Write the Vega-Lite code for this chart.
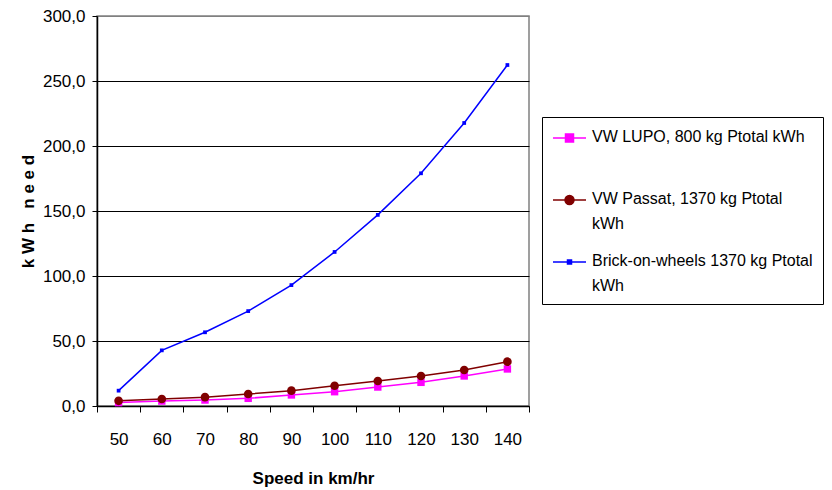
{
  "$schema": "https://vega.github.io/schema/vega-lite/v6.json",
  "width": 432,
  "height": 390,
  "autosize": {"type": "none"},
  "padding": {"left": 97, "top": 16, "right": 303, "bottom": 84},
  "background": "white",
  "config": {
    "view": {"stroke": "#808080", "strokeWidth": 1.5},
    "font": "Liberation Sans"
  },
  "data": {
    "values": [
      {"speed": 50, "series": "VW LUPO, 800 kg Ptotal kWh", "kwh": 2.6},
      {"speed": 60, "series": "VW LUPO, 800 kg Ptotal kWh", "kwh": 3.8},
      {"speed": 70, "series": "VW LUPO, 800 kg Ptotal kWh", "kwh": 4.6},
      {"speed": 80, "series": "VW LUPO, 800 kg Ptotal kWh", "kwh": 5.9},
      {"speed": 90, "series": "VW LUPO, 800 kg Ptotal kWh", "kwh": 8.5},
      {"speed": 100, "series": "VW LUPO, 800 kg Ptotal kWh", "kwh": 11.0},
      {"speed": 110, "series": "VW LUPO, 800 kg Ptotal kWh", "kwh": 14.6},
      {"speed": 120, "series": "VW LUPO, 800 kg Ptotal kWh", "kwh": 18.2},
      {"speed": 130, "series": "VW LUPO, 800 kg Ptotal kWh", "kwh": 23.1},
      {"speed": 140, "series": "VW LUPO, 800 kg Ptotal kWh", "kwh": 28.5},
      {"speed": 50, "series": "VW Passat, 1370 kg Ptotal kWh", "kwh": 4.0},
      {"speed": 60, "series": "VW Passat, 1370 kg Ptotal kWh", "kwh": 5.4},
      {"speed": 70, "series": "VW Passat, 1370 kg Ptotal kWh", "kwh": 6.8},
      {"speed": 80, "series": "VW Passat, 1370 kg Ptotal kWh", "kwh": 9.2},
      {"speed": 90, "series": "VW Passat, 1370 kg Ptotal kWh", "kwh": 11.8},
      {"speed": 100, "series": "VW Passat, 1370 kg Ptotal kWh", "kwh": 15.6},
      {"speed": 110, "series": "VW Passat, 1370 kg Ptotal kWh", "kwh": 19.2},
      {"speed": 120, "series": "VW Passat, 1370 kg Ptotal kWh", "kwh": 23.1},
      {"speed": 130, "series": "VW Passat, 1370 kg Ptotal kWh", "kwh": 27.7},
      {"speed": 140, "series": "VW Passat, 1370 kg Ptotal kWh", "kwh": 34.1},
      {"speed": 50, "series": "Brick-on-wheels 1370 kg Ptotal kWh", "kwh": 11.8},
      {"speed": 60, "series": "Brick-on-wheels 1370 kg Ptotal kWh", "kwh": 42.8},
      {"speed": 70, "series": "Brick-on-wheels 1370 kg Ptotal kWh", "kwh": 56.7},
      {"speed": 80, "series": "Brick-on-wheels 1370 kg Ptotal kWh", "kwh": 73.0},
      {"speed": 90, "series": "Brick-on-wheels 1370 kg Ptotal kWh", "kwh": 93.0},
      {"speed": 100, "series": "Brick-on-wheels 1370 kg Ptotal kWh", "kwh": 118.5},
      {"speed": 110, "series": "Brick-on-wheels 1370 kg Ptotal kWh", "kwh": 147.0},
      {"speed": 120, "series": "Brick-on-wheels 1370 kg Ptotal kWh", "kwh": 179.0},
      {"speed": 130, "series": "Brick-on-wheels 1370 kg Ptotal kWh", "kwh": 217.7},
      {"speed": 140, "series": "Brick-on-wheels 1370 kg Ptotal kWh", "kwh": 262.3}
    ]
  },
  "encoding": {
    "x": {
      "field": "speed",
      "type": "ordinal",
      "scale": {"type": "band", "paddingInner": 0, "paddingOuter": 0},
      "axis": {
        "title": "Speed in km/hr",
        "labelAngle": 0,
        "labelFontSize": 17,
        "labelColor": "black",
        "labelPadding": 19,
        "tickBand": "extent",
        "tickSize": 6,
        "tickColor": "black",
        "domainColor": "black",
        "domainWidth": 1.5,
        "titleFontSize": 17,
        "titleFontWeight": "bold",
        "titleColor": "black",
        "titlePadding": 23
      }
    },
    "y": {
      "field": "kwh",
      "type": "quantitative",
      "scale": {"domain": [0, 300], "nice": false},
      "axis": {
        "title": "k W h \u00a0 n e e d",
        "values": [0, 50, 100, 150, 200, 250, 300],
        "labelExpr": "replace(format(datum.value, '.1f'), '.', ',')",
        "labelFontSize": 17,
        "labelColor": "black",
        "labelPadding": 7,
        "tickSize": 5,
        "tickColor": "black",
        "domainColor": "black",
        "domainWidth": 1.5,
        "grid": true,
        "gridColor": {"condition": {"test": "datum.value === 300", "value": "#808080"}, "value": "black"},
        "gridOpacity": 1,
        "gridWidth": 1,
        "titleFontSize": 17,
        "titleFontWeight": "bold",
        "titleColor": "black",
        "titlePadding": 5
      }
    },
    "color": {
      "field": "series",
      "type": "nominal",
      "scale": {
        "domain": ["VW LUPO, 800 kg Ptotal kWh", "VW Passat, 1370 kg Ptotal kWh", "Brick-on-wheels 1370 kg Ptotal kWh"],
        "range": ["#ff00ff", "#800000", "#0000ff"]
      },
      "legend": {
        "title": null,
        "orient": "none",
        "legendX": 445,
        "legendY": 101,
        "strokeColor": "black",
        "fillColor": "white",
        "padding": 10,
        "gridAlign": "all",
        "symbolSize": 400,
        "symbolOffset": 0,
        "labelOffset": 18,
        "labelFontSize": 16,
        "labelColor": "black",
        "labelLimit": 400,
        "rowPadding": 19,
        "labelExpr": "datum.value == 'VW Passat, 1370 kg Ptotal kWh' ? ['VW Passat, 1370 kg Ptotal', 'kWh'] : datum.value == 'Brick-on-wheels 1370 kg Ptotal kWh' ? ['Brick-on-wheels 1370 kg Ptotal', 'kWh'] : datum.label",
        "encode": {
          "labels": {
            "update": {
              "baseline": {"value": "top"},
              "dy": {"value": -9},
              "lineHeight": {"value": 25}
            }
          },
          "symbols": {
            "update": {
              "shape": {"signal": "datum.value == 'VW LUPO, 800 kg Ptotal kWh' ? 'M-1,0H2.3M0.25,-0.4H1.05V0.4H0.25Z' : datum.value == 'VW Passat, 1370 kg Ptotal kWh' ? 'M-1,0H2.3M0.2,0A0.45,0.45 0 1,0 1.1,0A0.45,0.45 0 1,0 0.2,0Z' : 'M-1,0H2.3M0.45,-0.2H0.85V0.2H0.45Z'"},
              "size": {"value": 400},
              "fill": {"signal": "scale('color', datum.value)"},
              "stroke": {"signal": "scale('color', datum.value)"},
              "strokeWidth": {"value": 1.5},
              "opacity": {"value": 1},
              "fillOpacity": {"value": 1},
              "strokeOpacity": {"value": 1}
            }
          }
        }
      }
    }
  },
  "layer": [
    {
      "mark": {"type": "line", "strokeWidth": 1.5}
    },
    {
      "mark": {"type": "point", "filled": true, "opacity": 1},
      "encoding": {
        "shape": {
          "condition": {"test": "datum.series === 'VW Passat, 1370 kg Ptotal kWh'", "value": "circle"},
          "value": "square"
        },
        "size": {
          "condition": [
            {"test": "datum.series === 'Brick-on-wheels 1370 kg Ptotal kWh'", "value": 14},
            {"test": "datum.series === 'VW Passat, 1370 kg Ptotal kWh'", "value": 75}
          ],
          "value": 55
        }
      }
    }
  ]
}
